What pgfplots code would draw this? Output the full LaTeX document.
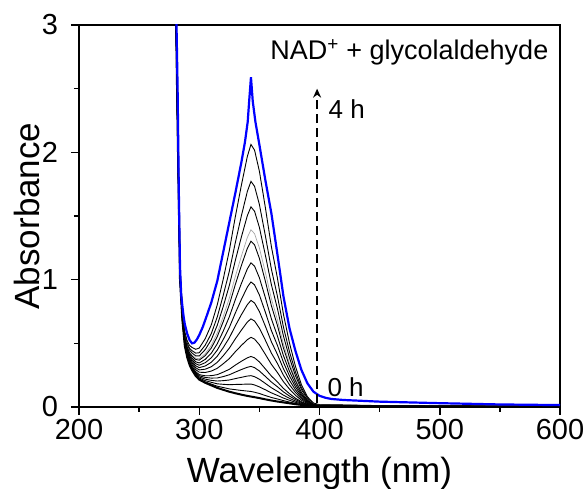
\documentclass[border=0pt]{standalone}
\usepackage{fontspec}
\setmainfont{Liberation Sans}
\usepackage{pgfplots}
\usepackage{pgfplotstable}
\pgfplotsset{compat=1.18}
\usetikzlibrary{arrows.meta}

\pgfplotstableread{
lam c1 c2 c3 c4 c5 c6 c7 c8 c9 c10 c11 c12 c13 c14 c15 c16
280 3.579 3.568 3.560 3.552 3.549 3.542 3.536 3.530 3.524 3.519 3.513 3.510 3.507 3.504 3.502 3.500
282 2.283 2.271 2.263 2.255 2.251 2.244 2.238 2.232 2.226 2.220 2.213 2.210 2.207 2.204 2.202 2.200
284 1.089 1.076 1.067 1.059 1.055 1.047 1.041 1.034 1.027 1.021 1.014 1.011 1.007 1.004 1.002 1.000
286 0.779 0.765 0.755 0.746 0.741 0.733 0.725 0.718 0.711 0.703 0.696 0.692 0.688 0.685 0.682 0.680
288 0.589 0.573 0.562 0.552 0.547 0.538 0.530 0.522 0.514 0.506 0.497 0.493 0.489 0.485 0.482 0.480
290 0.519 0.500 0.487 0.475 0.469 0.458 0.449 0.439 0.430 0.420 0.411 0.405 0.401 0.396 0.393 0.390
292 0.483 0.460 0.445 0.431 0.424 0.411 0.399 0.388 0.377 0.366 0.354 0.348 0.343 0.338 0.333 0.330
294 0.468 0.442 0.424 0.408 0.400 0.385 0.371 0.358 0.345 0.332 0.318 0.311 0.305 0.299 0.294 0.290
297 0.453 0.423 0.402 0.383 0.373 0.355 0.340 0.324 0.309 0.294 0.278 0.270 0.262 0.255 0.249 0.245
300 0.463 0.426 0.401 0.379 0.368 0.346 0.328 0.309 0.291 0.273 0.254 0.245 0.236 0.227 0.220 0.215
305 0.537 0.486 0.451 0.419 0.404 0.374 0.348 0.322 0.297 0.271 0.245 0.232 0.219 0.207 0.197 0.190
310 0.645 0.576 0.528 0.484 0.463 0.422 0.386 0.351 0.316 0.282 0.246 0.227 0.209 0.194 0.180 0.170
315 0.803 0.708 0.642 0.582 0.553 0.497 0.447 0.399 0.351 0.304 0.254 0.228 0.204 0.182 0.163 0.150
320 1.006 0.879 0.791 0.711 0.672 0.597 0.531 0.467 0.403 0.340 0.274 0.239 0.207 0.178 0.153 0.135
325 1.229 1.066 0.954 0.854 0.803 0.708 0.624 0.543 0.462 0.380 0.296 0.253 0.212 0.175 0.142 0.120
330 1.494 1.291 1.151 1.025 0.962 0.843 0.738 0.637 0.535 0.434 0.329 0.274 0.223 0.177 0.136 0.108
335 1.740 1.500 1.334 1.184 1.110 0.969 0.844 0.724 0.603 0.483 0.359 0.294 0.233 0.178 0.130 0.097
340 1.968 1.693 1.503 1.332 1.246 1.085 0.942 0.804 0.667 0.529 0.386 0.312 0.243 0.180 0.125 0.087
343 2.062 1.772 1.572 1.392 1.302 1.132 0.982 0.837 0.692 0.547 0.397 0.319 0.246 0.180 0.122 0.082
346 2.017 1.733 1.537 1.361 1.273 1.106 0.959 0.817 0.675 0.533 0.386 0.309 0.238 0.173 0.116 0.077
350 1.852 1.591 1.411 1.249 1.168 1.015 0.880 0.750 0.619 0.489 0.354 0.283 0.218 0.158 0.106 0.070
355 1.565 1.344 1.192 1.056 0.987 0.858 0.744 0.634 0.524 0.413 0.299 0.240 0.185 0.135 0.090 0.060
360 1.259 1.082 0.960 0.850 0.795 0.692 0.600 0.512 0.423 0.335 0.243 0.196 0.151 0.111 0.075 0.051
365 1.013 0.871 0.773 0.685 0.641 0.558 0.484 0.413 0.342 0.271 0.197 0.159 0.123 0.091 0.063 0.043
370 0.729 0.628 0.558 0.495 0.463 0.404 0.351 0.300 0.250 0.199 0.146 0.119 0.093 0.070 0.050 0.036
375 0.504 0.435 0.387 0.343 0.322 0.281 0.245 0.210 0.175 0.141 0.105 0.086 0.068 0.053 0.039 0.029
380 0.319 0.276 0.246 0.219 0.205 0.180 0.157 0.135 0.114 0.092 0.069 0.058 0.047 0.037 0.028 0.022
385 0.174 0.151 0.135 0.121 0.114 0.100 0.088 0.076 0.065 0.053 0.041 0.035 0.029 0.024 0.019 0.016
390 0.080 0.070 0.063 0.057 0.054 0.048 0.043 0.037 0.032 0.027 0.022 0.019 0.017 0.014 0.012 0.011
395 0.031 0.027 0.025 0.023 0.022 0.020 0.018 0.016 0.014 0.013 0.011 0.010 0.009 0.008 0.008 0.007
400 0.018 0.016 0.015 0.013 0.012 0.011 0.010 0.009 0.009 0.008 0.007 0.006 0.006 0.005 0.005 0.005
420 0.016 0.014 0.013 0.012 0.011 0.010 0.009 0.009 0.008 0.007 0.006 0.005 0.005 0.005 0.004 0.004
450 0.011 0.010 0.009 0.008 0.008 0.007 0.007 0.006 0.005 0.005 0.004 0.004 0.004 0.003 0.003 0.003
500 0.009 0.008 0.007 0.007 0.007 0.006 0.006 0.005 0.005 0.004 0.004 0.004 0.003 0.003 0.003 0.003
600 0.006 0.005 0.005 0.005 0.004 0.004 0.004 0.004 0.003 0.003 0.003 0.002 0.002 0.002 0.002 0.002
}\tblK

\pgfplotstableread{
lam a
280 3.8
281 3.05
282 2.5
283 1.7
284 1.1
285 0.88
286 0.79
287 0.71
288 0.65
290 0.575
292 0.525
294 0.50
296 0.505
298 0.53
300 0.565
303 0.63
306 0.71
310 0.82
315 0.99
320 1.22
325 1.45
330 1.68
335 1.92
338 2.08
340.3 2.24
341.5 2.40
343 2.59
344.5 2.40
346.7 2.24
350 2.06
355 1.78
360 1.52
365 1.20
370 0.87
375 0.62
380 0.44
385 0.29
390 0.185
395 0.12
400 0.088
405 0.072
410 0.063
420 0.055
450 0.042
500 0.03
550 0.02
600 0.015
}\tblB

\begin{document}
\begin{tikzpicture}
\begin{axis}[
  scale only axis, width=481pt, height=382pt,
  xmin=200, xmax=600, ymin=0, ymax=3,
  xtick={200,300,400,500,600}, ytick={0,1,2,3},
  minor xtick={250,350,450,550}, minor ytick={0.5,1.5,2.5},
  tick align=outside, xtick pos=bottom, ytick pos=left,
  major tick length=8pt, minor tick length=5pt,
  every tick/.style={black, line width=1.5pt},
  axis line style={line width=1.5pt},
  tick label style={font=\fontsize{29}{35}\selectfont},
  xticklabel style={yshift=-3pt, inner ysep=1pt, inner xsep=0pt},
  yticklabel style={xshift=-12.7pt, inner ysep=1pt, inner xsep=0pt},
  /pgf/number format/assume math mode=true,
  clip=true,
]
\addplot[black, line width=0.9pt] table[x=lam, y=c1]{\tblK};
\addplot[black, line width=0.9pt] table[x=lam, y=c2]{\tblK};
\addplot[black, line width=0.9pt] table[x=lam, y=c3]{\tblK};
\addplot[black!35, line width=0.7pt] table[x=lam, y=c4]{\tblK};
\addplot[black, line width=0.9pt] table[x=lam, y=c5]{\tblK};
\addplot[black, line width=0.9pt] table[x=lam, y=c6]{\tblK};
\addplot[black, line width=0.9pt] table[x=lam, y=c7]{\tblK};
\addplot[black, line width=0.9pt] table[x=lam, y=c8]{\tblK};
\addplot[black, line width=0.9pt] table[x=lam, y=c9]{\tblK};
\addplot[black, line width=0.9pt] table[x=lam, y=c10]{\tblK};
\addplot[black, line width=0.9pt] table[x=lam, y=c11]{\tblK};
\addplot[black, line width=0.9pt] table[x=lam, y=c12]{\tblK};
\addplot[black, line width=0.9pt] table[x=lam, y=c13]{\tblK};
\addplot[black, line width=0.9pt] table[x=lam, y=c14]{\tblK};
\addplot[black, line width=0.9pt] table[x=lam, y=c15]{\tblK};
\addplot[black, line width=2pt] table[x=lam, y=c16]{\tblK};
\addplot[blue, line width=2.2pt] table[x=lam, y=a]{\tblB};
\draw[line width=2pt, dash pattern=on 9pt off 5pt, -{Stealth[length=9pt,width=8pt]}] (axis cs:398,0.03) -- (axis cs:398,2.5);
\node[anchor=base west, inner sep=0pt, font=\fontsize{27}{31}\selectfont] at (axis cs:359,2.73) {NAD\textsuperscript{+} + glycolaldehyde};
\node[anchor=base west, inner sep=0pt, font=\fontsize{26}{30}\selectfont] at (axis cs:407.5,2.265) {4 h};
\node[anchor=base west, inner sep=0pt, font=\fontsize{26}{30}\selectfont] at (axis cs:406.5,0.08) {0 h};
\end{axis}
\node[rotate=90, anchor=base, inner sep=0pt, font=\fontsize{35}{42}\selectfont] at ([xshift=-39pt]current axis.west) {Absorbance};
\node[anchor=base, inner sep=0pt, font=\fontsize{35}{42}\selectfont] at ([yshift=-76pt]current axis.south) {Wavelength (nm)};
\pgfresetboundingbox
\path[use as bounding box] ([shift={(-79pt,-82pt)}]current axis.south west) rectangle ([shift={(27pt,25pt)}]current axis.north east);
\end{tikzpicture}
\end{document}
